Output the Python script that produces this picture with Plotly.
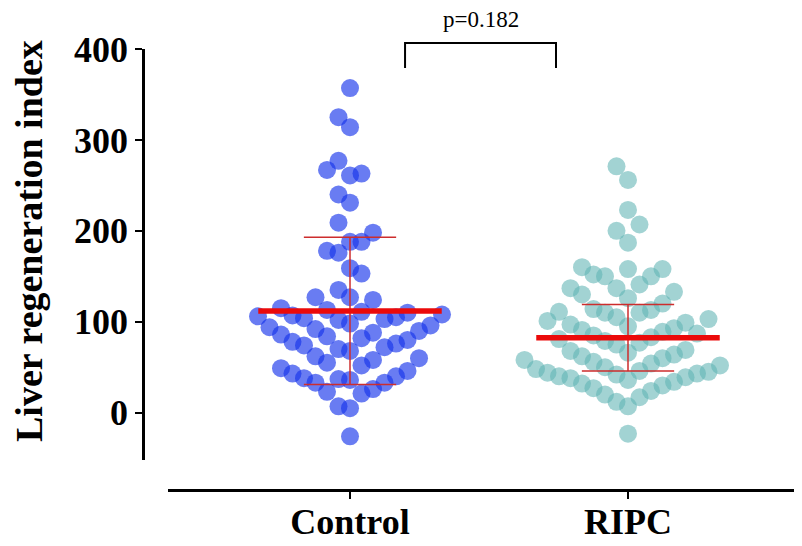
import plotly.graph_objects as go

# ---------------- data ----------------
categories = ["Control", "RIPC"]

control_values = [
    357, 325, 314, 277, 267, 263, 261, 240, 231, 209, 198, 188, 188, 178, 176,
    159, 153, 135, 127, 127, 124,
    115, 113, 111, 110, 108, 107, 106, 105, 104, 103, 102,
    98, 96, 94, 92, 90, 88, 86, 84, 82, 80, 78, 76, 74, 72, 70, 68,
    62, 60, 58, 55, 52, 49, 46, 43, 40, 38, 37, 36,
    33, 33, 26, 23, 21, 7, 5, -26,
]

ripc_values = [
    271, 256, 223, 207, 200, 187,
    160, 158, 158, 152, 150, 150,
    141, 137, 137, 133, 130, 126, 120, 114, 113, 111, 110, 110,
    105, 103, 101, 99, 97, 95, 93, 91, 89, 87, 85, 83, 81, 79, 77, 75,
    69, 68, 66, 64, 62, 60, 58, 56, 54, 52, 50, 48, 46, 45, 44,
    43, 42, 40, 39, 38, 36, 34, 32, 30, 27, 24, 20, 17, 12, 7,
    -23,
]

means = [112, 82.5]
error_low = [31, 46]
error_high = [193, 119]

p_text = "p=0.182"
y_ticks = [0, 100, 200, 300, 400]
y_title = "Liver regeneration index"

# ---------------- layout geometry ----------------
# the page body has an 8px margin, so the figure is sized to fit the window
W, H = 794, 538
ML, MR, MT, MB = 135, 2, 41, 56
plot_w = W - ML - MR
plot_h = H - MT - MB
y_range = [-52, 400]
y_dom = [30 / plot_h, 1.0]
x_dom = [25 / plot_w, 1.0]
x_range = [0.3453, 2.6187]

px_per_x = plot_w * (x_dom[1] - x_dom[0]) / (x_range[1] - x_range[0])
px_per_y = plot_h * (y_dom[1] - y_dom[0]) / (y_range[1] - y_range[0])


def y_paper(v):
    return y_dom[0] + (v - y_range[0]) / (y_range[1] - y_range[0]) * (y_dom[1] - y_dom[0])


def swarm(vals, step_px=11.5, gap_px=26.0):
    order = sorted(range(len(vals)), key=lambda i: vals[i])
    placed = []
    cols = [0] * len(vals)
    cands = [0]
    for n in range(1, 60):
        cands += [-n, n]
    for i in order:
        y = vals[i] * px_per_y
        for k in cands:
            ok = True
            for c, yy in placed:
                if c == k and abs(y - yy) < gap_px:
                    ok = False
                    break
            if ok:
                break
        placed.append((k, y))
        cols[i] = k
    return [c * step_px / px_per_x for c in cols]


FONT = "Liberation Serif, Times New Roman, serif"
fig = go.Figure()

groups = [
    (control_values, "rgb(20,50,235)", 0.64),
    (ripc_values, "rgb(95,180,180)", 0.58),
]
for gi, (vals, col, op) in enumerate(groups):
    center = gi + 1
    offs = swarm(vals)
    fig.add_trace(go.Scatter(
        x=[center + o for o in offs], y=vals, mode="markers",
        marker=dict(size=18, color=col, opacity=op, line=dict(width=0)),
        cliponaxis=False, showlegend=False, hoverinfo="y",
    ))

for gi in range(len(categories)):
    c = gi + 1
    m, lo, hi = means[gi], error_low[gi], error_high[gi]
    cap = 0.166
    fig.add_trace(go.Scatter(
        x=[c, c, None, c - cap, c + cap, None, c - cap, c + cap],
        y=[lo, hi, None, lo, lo, None, hi, hi],
        mode="lines", line=dict(color="rgb(205,45,45)", width=1.5),
        showlegend=False, hoverinfo="skip",
    ))
    fig.add_trace(go.Scatter(
        x=[c - 0.33, c + 0.33], y=[m, m], mode="lines",
        line=dict(color="rgb(235,10,10)", width=5.5),
        showlegend=False, hoverinfo="skip",
    ))

# significance bracket
bx0, bx1 = 1.198, 1.741
b_top, b_leg = 406.5, 379
fig.add_shape(type="path", xref="x", yref="paper",
              path=f"M {bx0},{y_paper(b_leg)} L {bx0},{y_paper(b_top)} L {bx1},{y_paper(b_top)} L {bx1},{y_paper(b_leg)}",
              line=dict(color="black", width=2))
fig.add_annotation(x=(bx0 + bx1) / 2, y=y_paper(b_top + 10), xref="x", yref="paper",
                   text=p_text, showarrow=False, yanchor="bottom",
                   font=dict(family=FONT, size=23, color="black"))

# y-axis title
fig.add_annotation(x=-114 / plot_w, y=249 / plot_h, xref="paper", yref="paper",
                   text=y_title, textangle=-90, showarrow=False,
                   xanchor="center", yanchor="middle",
                   font=dict(family=FONT, size=38, color="black", weight="bold"))

fig.update_layout(
    width=W, height=H,
    margin=dict(l=ML, r=MR, t=MT, b=MB, autoexpand=False),
    paper_bgcolor="white", plot_bgcolor="white",
    showlegend=False,
    xaxis=dict(
        domain=x_dom, range=x_range, anchor="free", position=0,
        tickvals=[1, 2], ticktext=categories,
        showline=True, linecolor="black", linewidth=2.5,
        ticks="outside", ticklen=7, tickwidth=2, tickcolor="black",
        ticklabelstandoff=-8,
        showgrid=False, zeroline=False,
        tickfont=dict(family=FONT, size=36, color="black", weight="bold"),
    ),
    yaxis=dict(
        domain=y_dom, range=y_range, anchor="free", position=0,
        tickvals=y_ticks,
        showline=True, linecolor="black", linewidth=2.5,
        ticks="outside", ticklen=7, tickwidth=2, tickcolor="black",
        showgrid=False, zeroline=False,
        tickfont=dict(family=FONT, size=36, color="black", weight="bold"),
    ),
)

fig.write_html("out.html")
